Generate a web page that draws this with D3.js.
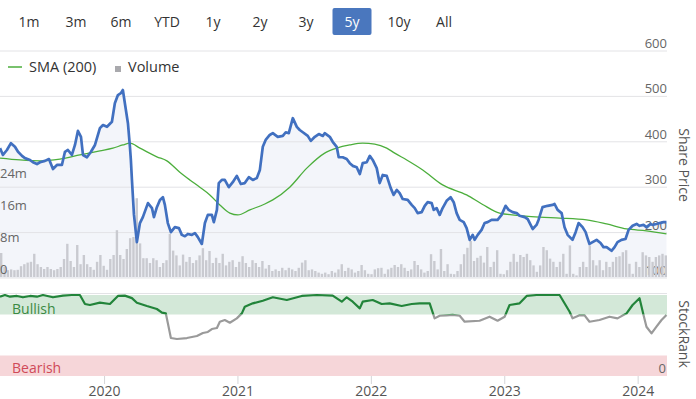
<!DOCTYPE html>
<html>
<head>
<meta charset="utf-8">
<script src="https://cdn.jsdelivr.net/npm/d3@7/dist/d3.min.js"></script>
<style>
  body { margin: 0; background: #fff; }
  svg text { font-family: "Open Sans", "Noto Sans", sans-serif; }
</style>
</head>
<body>
<div id="chart"></div>
<script>
// range selector
const rangeLabels = ['1m', '3m', '6m', 'YTD', '1y', '2y', '3y', '5y', '10y', 'All'];
const selectedRange = '5y';

// tick labels
const yearTicks = [2020, 2021, 2022, 2023, 2024];
const priceTicks = [100, 200, 300, 400, 500, 600];
const volumeTicks = [0, 8, 16, 24];   // millions

// share price, [decimal year, price]
const price = [
  [2019.220,386],[2019.242,371],[2019.272,382],[2019.302,397],[2019.332,389],[2019.355,378],
  [2019.385,369],[2019.407,364],[2019.445,360],[2019.467,355],[2019.497,351],[2019.520,355],
  [2019.557,358],[2019.587,362],[2019.617,340],[2019.647,349],[2019.684,349],[2019.707,378],
  [2019.729,382],[2019.759,371],[2019.782,393],[2019.804,424],[2019.827,411],[2019.842,371],
  [2019.872,366],[2019.902,378],[2019.932,393],[2019.969,430],[2019.992,437],[2020.022,433],
  [2020.059,444],[2020.081,485],[2020.104,503],[2020.126,507],[2020.141,514],[2020.156,485],
  [2020.179,441],[2020.194,389],[2020.201,360],[2020.209,316],[2020.224,240],[2020.246,179],
  [2020.269,221],[2020.291,234],[2020.329,265],[2020.359,254],[2020.374,234],[2020.396,256],
  [2020.419,272],[2020.441,278],[2020.456,261],[2020.478,221],[2020.501,201],[2020.531,212],
  [2020.561,210],[2020.583,195],[2020.606,192],[2020.628,197],[2020.658,195],[2020.681,199],
  [2020.703,190],[2020.733,175],[2020.756,221],[2020.778,239],[2020.808,239],[2020.823,223],
  [2020.846,250],[2020.860,309],[2020.883,316],[2020.905,316],[2020.935,300],[2020.965,311],
  [2020.995,325],[2021.025,307],[2021.055,309],[2021.085,322],[2021.115,316],[2021.145,320],
  [2021.168,338],[2021.190,389],[2021.213,405],[2021.242,415],[2021.265,419],[2021.302,411],
  [2021.340,413],[2021.362,421],[2021.385,419],[2021.415,452],[2021.445,433],[2021.467,426],
  [2021.490,421],[2021.527,413],[2021.550,402],[2021.580,411],[2021.610,417],[2021.640,413],
  [2021.654,419],[2021.692,411],[2021.714,400],[2021.744,389],[2021.759,366],[2021.789,366],
  [2021.819,362],[2021.842,353],[2021.864,347],[2021.894,344],[2021.917,329],[2021.939,353],
  [2021.969,355],[2021.992,369],[2022.014,360],[2022.044,342],[2022.066,309],[2022.089,327],
  [2022.119,325],[2022.149,298],[2022.171,283],[2022.194,294],[2022.216,287],[2022.239,274],
  [2022.276,272],[2022.306,261],[2022.329,254],[2022.351,243],[2022.381,245],[2022.404,259],
  [2022.426,267],[2022.456,265],[2022.471,250],[2022.493,254],[2022.516,239],[2022.538,254],
  [2022.568,270],[2022.598,278],[2022.621,267],[2022.643,243],[2022.666,228],[2022.696,223],
  [2022.718,210],[2022.741,184],[2022.763,195],[2022.778,184],[2022.801,195],[2022.830,206],
  [2022.853,221],[2022.875,223],[2022.905,228],[2022.928,228],[2022.950,228],[2022.980,239],
  [2023.010,259],[2023.033,250],[2023.063,245],[2023.093,243],[2023.115,237],[2023.153,234],
  [2023.175,230],[2023.213,208],[2023.242,217],[2023.257,228],[2023.287,256],[2023.325,259],
  [2023.362,261],[2023.377,263],[2023.400,250],[2023.430,243],[2023.452,212],[2023.475,195],
  [2023.512,184],[2023.535,201],[2023.557,221],[2023.587,212],[2023.610,201],[2023.624,188],
  [2023.639,175],[2023.662,179],[2023.692,184],[2023.722,177],[2023.744,168],[2023.767,168],
  [2023.804,160],[2023.827,168],[2023.849,179],[2023.879,184],[2023.909,186],[2023.932,206],
  [2023.962,215],[2023.992,219],[2024.014,215],[2024.044,217],[2024.066,212],[2024.096,219],
  [2024.111,217],[2024.141,219],[2024.164,221],[2024.194,223],[2024.216,223]
];

// 200 day simple moving average
const sma200 = [
  [2019.220,364],[2019.370,360],[2019.520,358],[2019.669,362],[2019.819,371],[2019.969,380],
  [2020.066,386],[2020.141,393],[2020.194,397],[2020.269,386],[2020.396,367],[2020.471,358],
  [2020.568,333],[2020.643,316],[2020.718,300],[2020.793,283],[2020.868,261],[2020.943,243],
  [2021.003,239],[2021.093,250],[2021.205,263],[2021.265,272],[2021.392,300],[2021.520,342],
  [2021.654,375],[2021.744,386],[2021.842,393],[2021.939,397],[2022.029,395],[2022.119,386],
  [2022.179,375],[2022.269,360],[2022.389,338],[2022.538,305],[2022.718,283],[2022.838,262],
  [2022.965,243],[2023.138,237],[2023.265,234],[2023.415,232],[2023.617,228],[2023.767,219],
  [2023.917,208],[2024.066,204],[2024.216,197]
];

// traded volume, millions, oldest first
const volume = [
  6,2.5,1.7,1.9,1.7,1.8,2.7,3.2,3.6,3.8,5.8,3.2,2.5,2,2.5,2,1.7,2,2.5,4.5,
  8.3,4,2.5,8,3.2,5.5,3.2,2.5,1.8,3.8,5.5,2.8,1.8,4.5,5.5,11.7,5.5,4.5,7,9.7,
  10,19.7,8.4,
  4.7,4.7,3.5,4.7,4.2,2.5,3.5,4.2,10.8,6.6,5.4,2.9,5.6,3.8,5,3.5,4.2,5.4,7.2,4.2,
  6.5,3.5,4.8,3.5,5.8,2.9,3.8,4.2,2.5,3.8,5.2,3.5,2.5,4.2,3.5,2.5,4,2.1,
  3,1.5,1.9,1.5,2.3,1.7,2.3,1.9,1.5,2.3,3.6,4.2,1.7,1.9,1.5,1.1,0.8,1.1,0.7,1.5,
  1.1,1.9,3.2,1.5,2.3,1.9,1.1,1.5,3,1.7,0.8,0.7,1.9,2.2,2.3,0.8,1.9,2.3,3,2.5,
  3.2,2.3,1.5,1.9,4,3,1.9,1.1,1.5,5.7,4,1.9,7,1.5,3.2,0.8,0.7,1.5,3.2,5.7,
  7.3,9,4,4.8,5.3,3.6,7.5,
  2.5,3.8,6.7,0.8,0.7,1.7,3.8,5.8,3.8,5.5,
  5,5.8,4.2,2.9,1.3,2.9,7.5,6.7,4.6,3.8,2.5,3.8,5.8,0.8,7.9,0.8,0.4,2.5,3.8,2.5,
  7.9,4.2,2.9,4.2,1.7,3.8,2.5,3.8,5,5.2,6.2,6.7,3.3,0.8,3.8,2.5,6.2,5.4,5,3.8,
  5,5.4,5.8,5.4
];

// StockRank, [decimal year, rank 0-100]
const stockRank = [
  [2019.220,96.7],[2019.257,98.8],[2019.295,96.7],[2019.347,97.6],[2019.392,96],[2019.445,97.6],
  [2019.497,96.7],[2019.542,98.8],[2019.617,96],[2019.692,98],[2019.759,98.8],[2019.819,98.8],
  [2019.857,87.8],[2019.894,86.6],[2019.969,89.4],[2020.044,87.8],[2020.104,97.6],[2020.156,98],
  [2020.209,95],[2020.246,89.4],[2020.321,85.4],[2020.396,81.7],[2020.434,77.2],[2020.463,76.4],
  [2020.478,64.6],[2020.501,46.3],[2020.546,45.1],[2020.621,46.3],[2020.696,48.8],[2020.741,52.4],
  [2020.778,53.7],[2020.808,57.3],[2020.846,58.5],[2020.868,66.2],[2020.905,68.3],[2020.943,65],
  [2020.995,70.3],[2021.033,76.4],[2021.055,84.5],[2021.115,88.6],[2021.190,91.8],[2021.265,96],
  [2021.370,92.7],[2021.482,97.6],[2021.595,98.8],[2021.714,98],[2021.782,90.6],[2021.819,96],
  [2021.864,90.6],[2021.917,82.5],[2021.939,90.6],[2022.014,92.7],[2022.081,87.8],[2022.141,88.6],
  [2022.231,85.4],[2022.306,87.8],[2022.366,88.6],[2022.441,88.6],[2022.478,70.3],[2022.516,73.5],
  [2022.568,74],[2022.613,74.5],[2022.666,73.5],[2022.703,66.2],[2022.815,67.4],[2022.890,72.3],
  [2022.950,67.4],[2023.003,72.3],[2023.040,86.6],[2023.115,88.6],[2023.168,97.6],[2023.242,98.8],
  [2023.415,98.8],[2023.490,78.4],[2023.512,70.3],[2023.565,74],[2023.602,74],[2023.639,66.2],
  [2023.714,68.3],[2023.789,72.3],[2023.849,70.3],[2023.917,76.4],[2023.962,86.6],[2024.014,94.8],
  [2024.044,74.5],[2024.066,60.1],[2024.104,52],[2024.141,60.1],[2024.179,68.3],[2024.216,74.4]
];

const width = 696, height = 399;
const plot = { left: 0, right: 667 };

const svg = d3.select('#chart')
  .append('svg')
  .attr('width', width)
  .attr('height', height);

const x = d3.scaleLinear()
  .domain([2019.22, 2024.22])
  .range([plot.left, plot.right]);

const yPrice = d3.scaleLinear().domain([100, 600]).range([278, 51]);
const yVol = d3.scaleLinear().domain([0, 25]).range([277, 177]);
const yRank = d3.scaleLinear().domain([0, 100]).range([376, 294]);

// ---- range buttons
const btnX = [29, 76, 121, 167, 213, 260, 306, 352, 399, 444];
const buttons = svg.append('g').selectAll('g')
  .data(rangeLabels)
  .enter().append('g')
  .attr('transform', (d, i) => `translate(${btnX[i]},22)`);

buttons.filter(d => d === selectedRange)
  .append('rect')
  .attr('x', -19.5).attr('y', -14)
  .attr('width', 39).attr('height', 27)
  .attr('rx', 2)
  .attr('fill', '#4a77be');

buttons.append('text')
  .attr('text-anchor', 'middle')
  .attr('dy', '0.35em')
  .attr('font-size', 14)
  .attr('fill', d => d === selectedRange ? '#fff' : '#333')
  .text(d => d);

// ---- price panel
const area = d3.area()
  .x(d => x(d[0]))
  .y0(yPrice(100))
  .y1(d => yPrice(d[1]));

svg.append('path')
  .datum(price)
  .attr('d', area)
  .attr('fill', '#f3f5fa');

svg.append('g').selectAll('line')
  .data(priceTicks)
  .enter().append('line')
  .attr('x1', plot.left).attr('x2', plot.right)
  .attr('y1', d => yPrice(d)).attr('y2', d => yPrice(d))
  .attr('stroke', '#e3e3e6');

svg.append('g').selectAll('text')
  .data(priceTicks)
  .enter().append('text')
  .attr('x', plot.right)
  .attr('y', d => yPrice(d) - 3)
  .attr('text-anchor', 'end')
  .attr('font-size', 13)
  .attr('fill', '#666')
  .text(d => d);

const xBand = d3.scaleBand()
  .domain(d3.range(volume.length))
  .range([plot.left, plot.right])
  .paddingInner(0.28);

svg.append('g').selectAll('rect')
  .data(volume)
  .enter().append('rect')
  .attr('x', (d, i) => xBand(i))
  .attr('y', d => yVol(d))
  .attr('width', xBand.bandwidth())
  .attr('height', d => yVol(0) - yVol(d))
  .attr('fill', '#c9cad0');

svg.append('g').selectAll('text')
  .data(volumeTicks)
  .enter().append('text')
  .attr('x', 0)
  .attr('y', d => yVol(d) - 3.5)
  .attr('font-size', 13)
  .attr('fill', '#666')
  .text(d => d === 0 ? '0' : d + 'm');

svg.append('path')
  .datum(sma200)
  .attr('d', d3.line().x(d => x(d[0])).y(d => yPrice(d[1])).curve(d3.curveMonotoneX))
  .attr('fill', 'none')
  .attr('stroke', '#4cae3c')
  .attr('stroke-width', 1.3);

svg.append('path')
  .datum(price)
  .attr('d', d3.line().x(d => x(d[0])).y(d => yPrice(d[1])))
  .attr('fill', 'none')
  .attr('stroke', '#4170c0')
  .attr('stroke-width', 2.7)
  .attr('stroke-linejoin', 'round');

// legend
const legend = svg.append('g').attr('transform', 'translate(8,67)');
legend.append('line')
  .attr('x1', 0).attr('x2', 14)
  .attr('stroke', '#4cae3c').attr('stroke-width', 1.5);
legend.append('text')
  .attr('x', 21).attr('dy', '0.35em')
  .attr('font-size', 14.5).attr('fill', '#333')
  .text('SMA (200)');
legend.append('rect')
  .attr('x', 107).attr('y', -1)
  .attr('width', 6).attr('height', 6)
  .attr('fill', '#a9a9ad');
legend.append('text')
  .attr('x', 120).attr('dy', '0.35em')
  .attr('font-size', 14.5).attr('fill', '#333')
  .text('Volume');

svg.append('text')
  .attr('transform', `translate(679,165) rotate(90)`)
  .attr('text-anchor', 'middle')
  .attr('font-size', 14)
  .attr('fill', '#555')
  .text('Share Price');

// ---- StockRank panel
svg.append('line')
  .attr('x1', plot.left).attr('x2', plot.right)
  .attr('y1', 293.5).attr('y2', 293.5)
  .attr('stroke', '#e3e3e6');

svg.append('rect')
  .attr('x', plot.left).attr('y', yRank(100) + 1)
  .attr('width', plot.right - plot.left)
  .attr('height', yRank(75) - yRank(100) - 1)
  .attr('fill', '#d3e8d8');

svg.append('rect')
  .attr('x', plot.left).attr('y', yRank(25))
  .attr('width', plot.right - plot.left)
  .attr('height', yRank(0) - yRank(25))
  .attr('fill', '#f6d6d9');

svg.append('text')
  .attr('x', 12).attr('y', yRank(82))
  .attr('dy', '0.35em')
  .attr('font-size', 14)
  .attr('fill', '#3b8a43')
  .text('Bullish');

svg.append('text')
  .attr('x', 12).attr('y', yRank(9.5))
  .attr('dy', '0.35em')
  .attr('font-size', 14)
  .attr('fill', '#d04a58')
  .text('Bearish');

svg.append('text')
  .attr('x', plot.right - 1).attr('y', yRank(9.5))
  .attr('dy', '0.35em')
  .attr('text-anchor', 'end')
  .attr('font-size', 13)
  .attr('fill', '#666')
  .text('0');

const defs = svg.append('defs');
defs.append('clipPath').attr('id', 'clip-bull')
  .append('rect')
  .attr('x', 0).attr('y', 0)
  .attr('width', width).attr('height', yRank(75));
defs.append('clipPath').attr('id', 'clip-low')
  .append('rect')
  .attr('x', 0).attr('y', yRank(75))
  .attr('width', width).attr('height', height);

const rankLine = d3.line().x(d => x(d[0])).y(d => yRank(d[1]));

svg.append('path')
  .datum(stockRank)
  .attr('d', rankLine)
  .attr('clip-path', 'url(#clip-low)')
  .attr('fill', 'none')
  .attr('stroke', '#9a9a9a')
  .attr('stroke-width', 2.2)
  .attr('stroke-linejoin', 'round');

svg.append('path')
  .datum(stockRank)
  .attr('d', rankLine)
  .attr('clip-path', 'url(#clip-bull)')
  .attr('fill', 'none')
  .attr('stroke', '#22843a')
  .attr('stroke-width', 2.2)
  .attr('stroke-linejoin', 'round');

svg.append('text')
  .attr('transform', `translate(679,334) rotate(90)`)
  .attr('text-anchor', 'middle')
  .attr('font-size', 14)
  .attr('fill', '#555')
  .text('StockRank');

// x axis
const xAxis = svg.append('g')
  .attr('transform', `translate(0,${yRank(0)})`)
  .call(d3.axisBottom(x).tickValues(yearTicks).tickFormat(d3.format('d')).tickSize(8).tickPadding(2));
xAxis.select('.domain').remove();
xAxis.selectAll('line').attr('stroke', '#d5d5d8');
xAxis.selectAll('text')
  .attr('font-size', 14)
  .attr('fill', '#555')
  .style('font-family', '"Open Sans", "Noto Sans", sans-serif');
</script>
</body>
</html>
